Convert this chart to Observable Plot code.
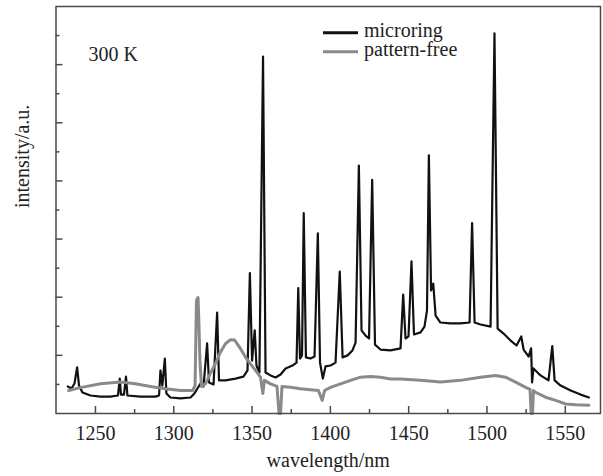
<!DOCTYPE html>
<html>
<head>
<meta charset="utf-8">
<script src="https://cdn.jsdelivr.net/npm/d3@7"></script>
<script src="https://cdn.jsdelivr.net/npm/@observablehq/plot@0.6"></script>
<style>
  html, body { margin: 0; padding: 0; background: #fff; }
  #chart { width: 603px; height: 476px; position: relative; }
  svg { font-family: "Liberation Serif", "Times New Roman", serif; }
</style>
</head>
<body>
<div id="chart"></div>
<script>
// ---- data ----
const seriesNames = ["microring", "pattern-free"];
const tempLabel = "300 K";
const xLabel = "wavelength/nm";
const yLabel = "intensity/a.u.";
const xMajorTicks = [1250, 1300, 1350, 1400, 1450, 1500, 1550];
const xMinorTicks = [1275, 1325, 1375, 1425, 1475, 1525];
const yMajorTicks = [2, 4, 6, 8, 10, 12];
const yMinorTicks = [1, 3, 5, 7, 9, 11, 13];

const microringWl = [1232.3,1234.7,1236.6,1238.3,1239.5,1241.7,1246.8,1253.2,1259.6,1264.4,1265.5,1266.3,1268.2,1269.5,1270.4,1278.7,1288.3,1290.6,1291.5,1292.7,1294.3,1295.3,1297.9,1304.3,1310.7,1313.2,1315.1,1317.1,1319.0,1321.3,1322.5,1325.4,1327.7,1328.9,1333.0,1339.4,1344.5,1347.1,1348.6,1350.0,1351.7,1352.8,1354.7,1357.0,1358.6,1361.8,1365.0,1368.2,1371.4,1375.8,1378.4,1379.5,1380.6,1381.9,1383.0,1384.4,1387.3,1389.9,1392.0,1393.4,1395.2,1396.9,1400.1,1403.3,1406.0,1407.8,1411.0,1414.1,1416.1,1418.2,1419.9,1422.5,1424.7,1426.7,1428.5,1432.0,1438.4,1444.8,1446.5,1448.0,1449.9,1451.8,1453.4,1457.6,1460.1,1461.7,1462.9,1464.3,1465.7,1467.2,1470.3,1476.7,1483.1,1488.9,1490.5,1492.1,1495.9,1502.3,1504.8,1506.8,1510.6,1515.1,1518.9,1521.9,1523.4,1526.6,1528.2,1528.8,1529.7,1534.2,1539.3,1541.7,1543.2,1547.0,1553.4,1559.8,1565.1];
const microringI = [0.93,0.86,1.03,1.59,0.96,0.72,0.62,0.58,0.58,0.62,1.20,0.65,0.65,1.27,0.62,0.58,0.58,0.62,1.48,0.96,1.89,0.69,0.55,0.52,0.55,0.69,0.86,1.03,0.93,2.41,1.07,1.00,3.47,1.14,1.14,1.20,1.27,1.48,4.83,1.82,2.86,1.65,1.41,12.28,1.41,1.31,1.24,1.34,1.55,1.65,1.75,4.31,1.89,2.00,6.89,1.93,1.89,1.96,6.20,1.75,1.20,1.62,1.65,1.75,4.88,1.93,2.00,2.17,2.44,8.53,2.86,2.68,2.58,8.04,2.37,2.20,2.17,2.24,4.09,2.58,2.65,5.23,2.72,2.79,2.99,3.54,8.88,4.23,4.47,3.37,3.13,3.10,3.10,3.13,6.55,3.13,3.06,2.99,13.08,2.92,2.75,2.51,2.34,2.65,2.20,1.96,2.24,1.07,1.55,1.31,1.14,2.32,1.14,0.96,0.79,0.65,0.55];

const patternFreeWl = [1232.9,1240.4,1253.2,1266.0,1275.5,1285.1,1294.7,1304.3,1312.0,1313.6,1314.5,1315.5,1316.1,1316.7,1317.7,1320.3,1323.4,1326.6,1329.8,1333.0,1336.2,1338.8,1342.6,1345.8,1349.0,1352.2,1355.4,1356.9,1357.9,1361.8,1365.9,1367.2,1368.2,1369.1,1374.5,1380.9,1387.3,1392.4,1394.8,1396.3,1400.1,1406.5,1412.9,1419.3,1425.6,1432.0,1438.4,1444.8,1457.6,1470.3,1483.1,1495.9,1505.5,1511.9,1518.3,1524.7,1527.5,1528.2,1529.1,1529.7,1531.0,1537.4,1543.8,1550.2,1556.6,1565.1];
const patternFreeI = [0.79,0.89,1.02,1.08,1.02,0.93,0.85,0.79,0.79,0.96,3.89,3.99,3.03,1.82,0.93,1.03,1.38,1.72,2.11,2.40,2.54,2.53,2.23,1.94,1.71,1.48,1.25,0.69,1.14,1.02,0.93,0,0,0.93,0.90,0.85,0.82,0.79,0.45,0.79,0.90,1.02,1.14,1.25,1.27,1.25,1.19,1.19,1.14,1.08,1.14,1.25,1.31,1.25,1.08,0.90,0.83,0,0,0.79,0.73,0.56,0.45,0.33,0.30,0.28];

const seriesColors = ["#111111", "#8a8a8a"];

// ---- build tables ----
const microring = microringWl.map((w, i) => ({w, v: microringI[i]}));
const patternFree = patternFreeWl.map((w, i) => ({w, v: patternFreeI[i]}));

const frameColor = "#4a4a4a";
const fontFamily = '"Liberation Serif", "Times New Roman", serif';

const plot = Plot.plot({
  width: 603,
  height: 476,
  marginLeft: 55.5,
  marginRight: 3,
  marginTop: 6,
  marginBottom: 63,
  style: {fontFamily, fontSize: "20px", background: "#fff", overflow: "visible"},
  x: {domain: [1224.8, 1572.5]},
  y: {domain: [0, 14]},
  marks: [
    Plot.line(microring, {x: "w", y: "v", stroke: seriesColors[0], strokeWidth: 2.2, strokeLinejoin: "round"}),
    Plot.line(patternFree, {x: "w", y: "v", stroke: seriesColors[1], strokeWidth: 3, strokeLinejoin: "round"}),
    Plot.frame({stroke: frameColor, strokeWidth: 1.5}),
    Plot.axisX(xMajorTicks, {tickSize: 7, dy: -7, text: null, label: null, stroke: frameColor, strokeWidth: 1.5}),
    Plot.axisX(xMinorTicks, {tickSize: 4, dy: -4, text: null, label: null, stroke: frameColor, strokeWidth: 1.5}),
    Plot.axisX(xMajorTicks, {tickSize: 0, tickPadding: 12, tickFormat: d => String(d), label: null, fontSize: 20, fill: "#222"}),
    Plot.axisY(yMajorTicks, {tickSize: 7, dx: 7, text: null, label: null, stroke: frameColor, strokeWidth: 1.5}),
    Plot.axisY(yMinorTicks, {tickSize: 4, dx: 4, text: null, label: null, stroke: frameColor, strokeWidth: 1.5}),
    Plot.text([xLabel], {frameAnchor: "bottom", dy: 53, fontSize: 20, fill: "#222"}),
    Plot.text([yLabel], {frameAnchor: "left", rotate: -90, dx: -33, dy: -2, fontSize: 20, fill: "#222"}),
    Plot.text([tempLabel], {frameAnchor: "top-left", textAnchor: "start", dx: 32.5, dy: 40.5, fontSize: 20, fill: "#222"})
  ]
});

document.getElementById("chart").appendChild(plot);

// legend (inside plot area, top centre-right)
const svg = d3.select(plot);
const lg = svg.append("g").attr("class", "legend").attr("text-anchor", "start");
seriesNames.forEach((name, i) => {
  const yy = 32.7 + i * 19;
  lg.append("line")
    .attr("x1", 323).attr("x2", 358).attr("y1", yy).attr("y2", yy)
    .attr("stroke", seriesColors[i]).attr("stroke-width", 3);
  lg.append("text")
    .attr("x", 364).attr("y", yy + 4.5)
    .attr("text-anchor", "start")
    .attr("font-size", 20).attr("fill", "#222")
    .attr("font-family", fontFamily)
    .text(name);
});
</script>
</body>
</html>
